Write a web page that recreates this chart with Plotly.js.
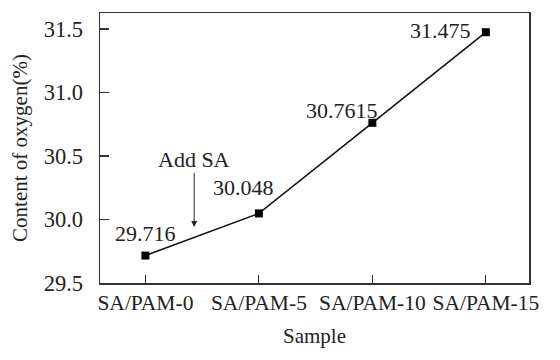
<!DOCTYPE html>
<html>
<head>
<meta charset="utf-8">
<script src="https://cdn.plot.ly/plotly-3.0.1.min.js"></script>
<style>html,body{margin:0;padding:0;background:#fff;}#chart{width:560px;height:360px;}</style>
</head>
<body>
<div id="chart"></div>
<script>
const categories = ["SA/PAM-0", "SA/PAM-5", "SA/PAM-10", "SA/PAM-15"];
const oxygen = [29.716, 30.048, 30.7615, 31.475];
const pointLabels = ["29.716", "30.048", "30.7615", "31.475"];
const yTicks = [29.5, 30.0, 30.5, 31.0, 31.5];
const yTickText = ["29.5", "30.0", "30.5", "31.0", "31.5"];

const font = {family: "Liberation Serif", size: 21, color: "#222"};
const xTickFont = {family: "Liberation Serif", size: 21.5, color: "#222"};
const yTickFont = {family: "Liberation Serif", size: 22.5, color: "#222"};
const annFont = {family: "Liberation Serif", size: 22, color: "#222"};

const labelOffsets = [
  {xshift: 0, yshift: 22, xanchor: "center"},
  {xshift: -15, yshift: 26, xanchor: "center"},
  {xshift: -30, yshift: 12, xanchor: "center"},
  {xshift: -13, yshift: 2, xanchor: "right"}
];

const annotations = categories.map((c, i) => Object.assign({
  x: i, y: oxygen[i], xref: "x", yref: "y", text: pointLabels[i],
  showarrow: false, yanchor: "middle", font: annFont
}, labelOffsets[i]));

annotations.push({
  x: 0.43, y: 29.94, xref: "x", yref: "y", text: "Add SA",
  showarrow: true, ax: 0, ay: -68, arrowhead: 2, arrowsize: 1.2, arrowwidth: 1,
  arrowcolor: "#222", font: annFont, standoff: 0
});

const trace = {
  x: [0, 1, 2, 3], y: oxygen, type: "scatter", mode: "lines+markers",
  line: {color: "#111", width: 1.5},
  marker: {symbol: "square", size: 8, color: "#000"},
  hoverinfo: "skip"
};

const layout = {
  width: 560, height: 360,
  margin: {l: 100, r: 31, t: 13, b: 77},
  paper_bgcolor: "#fff", plot_bgcolor: "#fff",
  showlegend: false,
  font: font,
  xaxis: {
    range: [-0.4, 3.38], tickvals: [0, 1, 2, 3], ticktext: categories,
    tickangle: 0,
    ticks: "inside", ticklen: 8, tickwidth: 1.2, tickcolor: "#333",
    showline: true, linecolor: "#333", linewidth: 1.5, mirror: true,
    showgrid: false, zeroline: false, ticklabelstandoff: 0,
    tickfont: xTickFont, automargin: false,
    title: {text: "Sample", font: font, standoff: 14}
  },
  yaxis: {
    range: [29.5, 31.626], tickvals: yTicks, ticktext: yTickText,
    ticks: "inside", ticklen: 9, tickwidth: 1.2, tickcolor: "#333",
    showline: true, linecolor: "#333", linewidth: 1.5, mirror: true,
    showgrid: false, zeroline: false, ticklabelstandoff: 11,
    tickfont: yTickFont, automargin: false,
    title: {text: "Content of oxygen(%)", font: font, standoff: 10}
  },
  annotations: annotations
};

Plotly.newPlot("chart", [trace], layout, {displayModeBar: false, staticPlot: true});
</script>
</body>
</html>
